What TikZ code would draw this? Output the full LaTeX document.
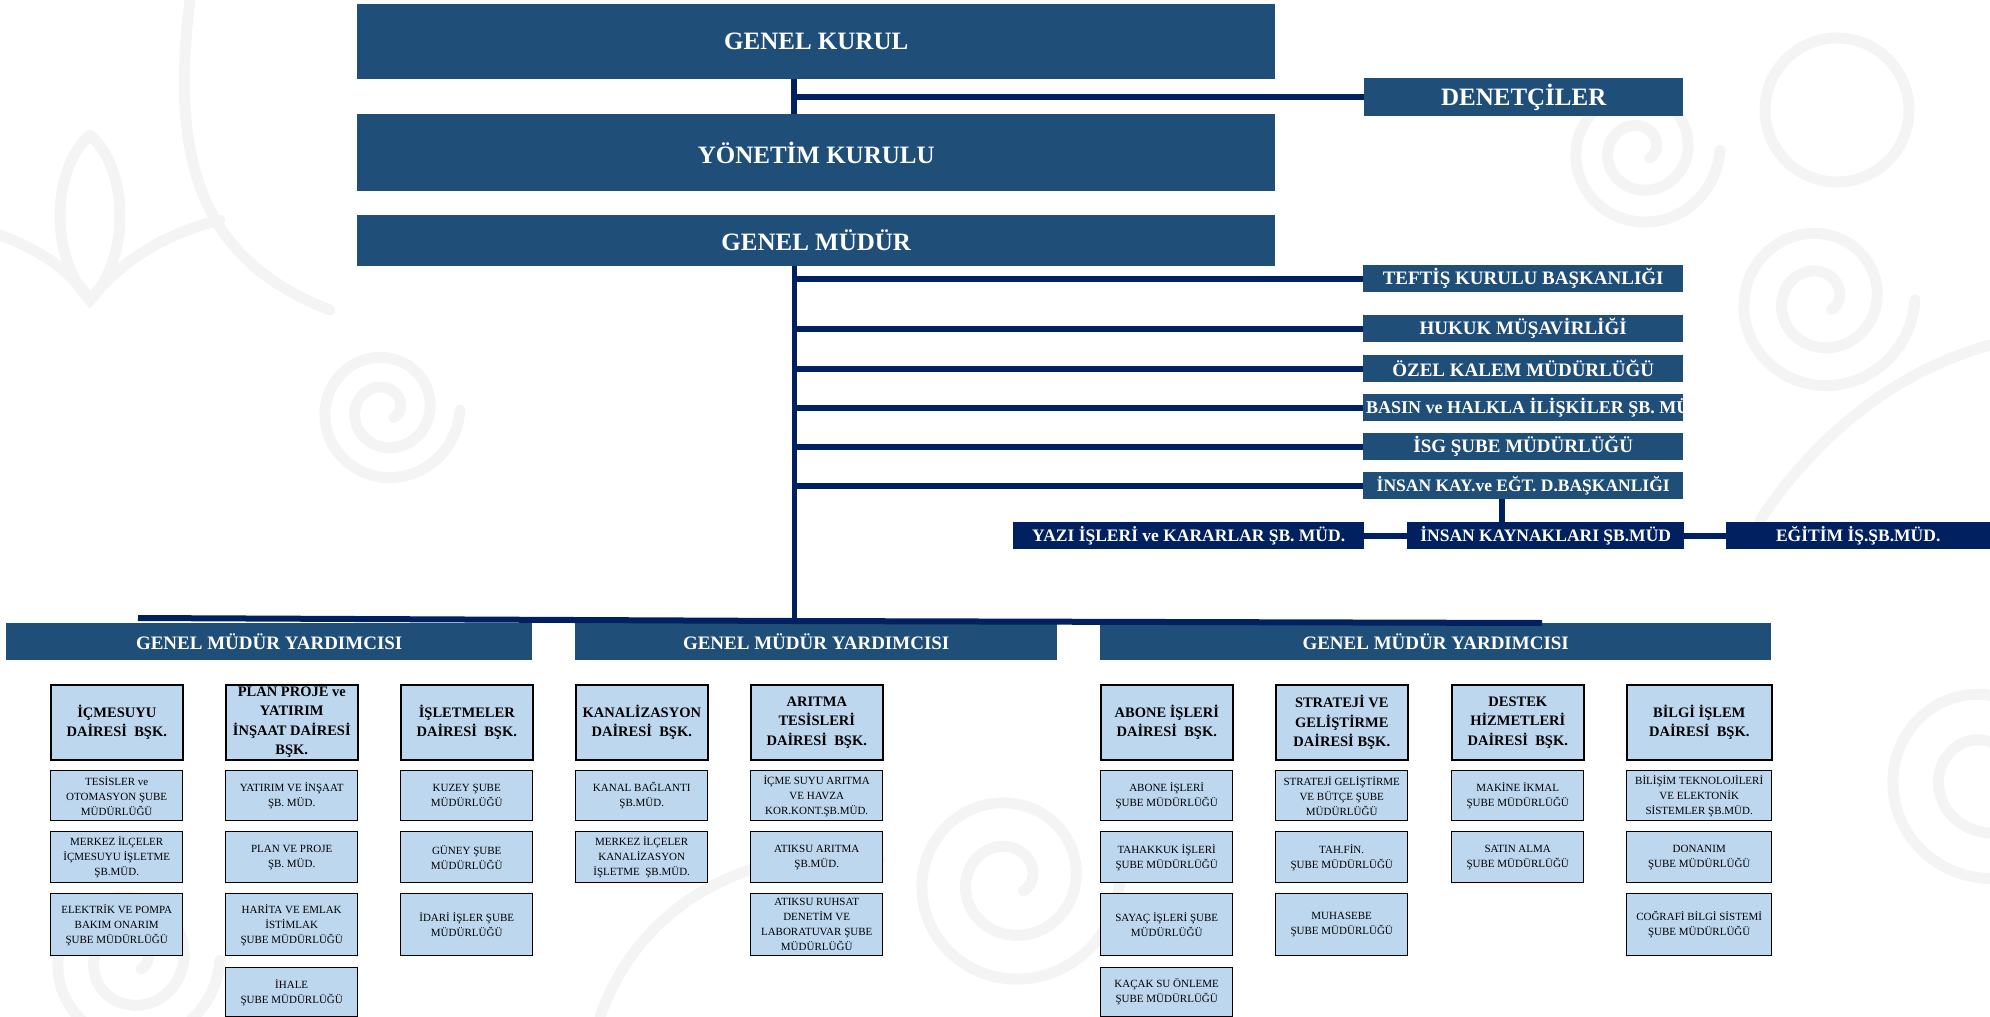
\documentclass[tikz,border=0pt]{standalone}
\usepackage{fontspec}
\setmainfont{Liberation Serif}
\usetikzlibrary{positioning}
\definecolor{topblue}{HTML}{1F4E79}
\definecolor{navy}{HTML}{002060}
\definecolor{lightbox}{HTML}{BDD7EE}
\definecolor{faint}{HTML}{F4F4F4}

\tikzset{
  topbox/.style={fill=topblue, text=white, anchor=north west, inner sep=0pt,
    font=\fontsize{25}{28}\selectfont\bfseries},
  sidebox/.style={fill=topblue, text=white, anchor=north west, inner sep=0pt,
    minimum width=320pt, minimum height=27pt, font=\fontsize{19}{21}\selectfont\bfseries},
  hrbox/.style={fill=navy, text=white, anchor=north west, inner sep=0pt,
    minimum height=27pt, font=\fontsize{17.5}{20}\selectfont\bfseries},
  gmybox/.style={fill=topblue, text=white, anchor=north west, inner sep=0pt,
    minimum height=37pt, font=\fontsize{19}{21}\selectfont\bfseries},
  deptbox/.style={draw=black, line width=1.6pt, fill=lightbox, anchor=north west,
    inner sep=1pt, minimum width=132pt, minimum height=75pt, align=center,
    font=\fontsize{14.5}{19.5}\selectfont\bfseries},
  subbox/.style={draw=black, line width=1.4pt, fill=lightbox, anchor=north west,
    inner sep=1pt, minimum width=132pt, minimum height=#1, align=center,
    font=\fontsize{11}{15}\selectfont},
  subbox/.default=50pt,
  link/.style={navy, line width=6pt},
  spineline/.style={navy, line width=5pt},
  swirl/.style={faint, line width=11pt, line cap=round},
}

\begin{document}
\begin{tikzpicture}[x=1pt,y=-1pt]
\useasboundingbox (0,0) rectangle (1990,1017);

% faint watermark swirls
\foreach \cx/\cy/\r in {1820/300/95, 1985/775/115, 385/410/75, 1010/880/110, 130/960/90, 1640/150/80}
  \draw[swirl] plot[domain=0:760, samples=100, variable=\t]
    ({\cx+\r*(1-\t/900)*cos(\t)}, {\cy+\r*(1-\t/900)*sin(\t)});
\draw[swirl] (1837,110) circle[radius=72pt];
\draw[swirl] (190,0) .. controls (170,160) and (200,260) .. (330,310);
\draw[swirl] (0,235) .. controls (40,250) and (70,270) .. (90,300) .. controls (130,250) and (180,230) .. (220,220);
\draw[swirl] (90,135) .. controls (50,170) and (50,260) .. (90,300) .. controls (130,260) and (130,170) .. (90,135);
\draw[swirl] (1990,345) .. controls (1900,370) and (1820,430) .. (1760,520);
\draw[swirl] (600,1017) .. controls (640,900) and (760,840) .. (880,860);

% board and general manager
\node[topbox, minimum width=918pt, minimum height=75pt] (gk) at (357,4) {GENEL KURUL};
\node[topbox, minimum width=319pt, minimum height=38pt] (den) at (1364,78) {DENETÇİLER};
\node[topbox, minimum width=918pt, minimum height=77pt] (yk) at (357,114) {YÖNETİM KURULU};
\node[topbox, minimum width=918pt, minimum height=51pt] (gm) at (357,215) {GENEL MÜDÜR};

% units attached to the general manager
\node[sidebox] (teftis) at (1363,265) {TEFTİŞ KURULU BAŞKANLIĞI};
\node[sidebox] (hukuk) at (1363,315) {HUKUK MÜŞAVİRLİĞİ};
\node[sidebox] (ozel) at (1363,355) {ÖZEL KALEM MÜDÜRLÜĞÜ};
\node[sidebox] (basin) at (1363,394) {};
\node[sidebox] (isg) at (1363,433) {İSG ŞUBE MÜDÜRLÜĞÜ};
\node[sidebox, font=\fontsize{17.5}{20}\selectfont\bfseries] (ikeb) at (1363,472) {İNSAN KAY.ve EĞT. D.BAŞKANLIĞI};
\begin{scope}
  \clip (basin.north west) rectangle (basin.south east);
  \node[anchor=west, text=white, inner sep=3pt, font=\fontsize{18}{20}\selectfont\bfseries]
    (basintxt) at (basin.west) {BASIN ve HALKLA İLİŞKİLER ŞB. MÜD.};
\end{scope}

\node[hrbox, minimum width=351pt] (yazi) at (1013,522) {YAZI İŞLERİ ve KARARLAR ŞB. MÜD.};
\node[hrbox, minimum width=277pt] (ik) at (1407,522) {İNSAN KAYNAKLARI ŞB.MÜD};
\node[hrbox, minimum width=264pt] (egitim) at (1726,522) {EĞİTİM İŞ.ŞB.MÜD.};

% deputies
\node[gmybox, minimum width=526pt] (gmy1) at (6,623) {GENEL MÜDÜR YARDIMCISI};
\node[gmybox, minimum width=482pt] (gmy2) at (575,623) {GENEL MÜDÜR YARDIMCISI};
\node[gmybox, minimum width=671pt] (gmy3) at (1100,623) {GENEL MÜDÜR YARDIMCISI};

% connectors
\coordinate (spine) at (794,621);
\coordinate (hrv) at (1502,500);
\coordinate (barL) at (138,618);
\coordinate (barR) at (1542,623);
\draw[link] (gk.south -| spine) -- (yk.north -| spine);
\draw[link] (spine |- den.west) -- (den.west);
\draw[spineline] (gm.south -| spine) -- (spine);
\draw[link] (barL) -- (spine) -- (barR);
\foreach \b in {teftis,hukuk,ozel,basin,isg,ikeb}
  \draw[link] (spine |- \b.west) -- (\b.west);
\draw[link] (ikeb.south -| hrv) -- (ik.north -| hrv);
\draw[link] (yazi.east) -- (ik.west);
\draw[link] (ik.east) -- (egitim.west);

% departments
\foreach \n/\x/\t in {
  icme/50/{İÇMESUYU\\DAİRESİ\ \ BŞK.},
  plan/225/{PLAN PROJE ve\\YATIRIM\\İNŞAAT DAİRESİ\\BŞK.},
  islet/400/{İŞLETMELER\\DAİRESİ\ \ BŞK.},
  kanal/575/{KANALİZASYON\\DAİRESİ\ \ BŞK.},
  aritma/750/{ARITMA\\TESİSLERİ\\DAİRESİ\ \ BŞK.},
  abone/1100/{ABONE İŞLERİ\\DAİRESİ\ \ BŞK.},
  strat/1275/{STRATEJİ VE\\GELİŞTİRME\\DAİRESİ BŞK.},
  destek/1451/{DESTEK\\HİZMETLERİ\\DAİRESİ\ \ BŞK.}}
  \node[deptbox] (\n) at (\x,684) {\t};
\node[deptbox, minimum width=145pt] (bilgi) at (1626,684) {BİLGİ İŞLEM\\DAİRESİ\ \ BŞK.};

% branch offices, row by row
\foreach \n/\x/\t in {
  tesis/50/{TESİSLER ve\\OTOMASYON ŞUBE\\MÜDÜRLÜĞÜ},
  yatirim/225/{YATIRIM VE İNŞAAT\\ŞB. MÜD.},
  kuzey/400/{KUZEY ŞUBE\\MÜDÜRLÜĞÜ},
  kbag/575/{KANAL BAĞLANTI\\ŞB.MÜD.},
  icmeark/750/{İÇME SUYU ARITMA\\VE HAVZA\\KOR.KONT.ŞB.MÜD.},
  abonesb/1100/{ABONE İŞLERİ\\ŞUBE MÜDÜRLÜĞÜ},
  butce/1275/{STRATEJİ GELİŞTİRME\\VE BÜTÇE ŞUBE\\MÜDÜRLÜĞÜ},
  makine/1451/{MAKİNE İKMAL\\ŞUBE MÜDÜRLÜĞÜ}}
  \node[subbox=50pt] (\n) at (\x,770) {\t};
\node[subbox=50pt, minimum width=145pt] (bilisim) at (1626,770) {BİLİŞİM TEKNOLOJİLERİ\\VE ELEKTONİK\\SİSTEMLER ŞB.MÜD.};

\foreach \n/\x/\t in {
  merkezic/50/{MERKEZ İLÇELER\\İÇMESUYU İŞLETME\\ŞB.MÜD.},
  planpr/225/{PLAN VE PROJE\\ŞB. MÜD.},
  guney/400/{GÜNEY ŞUBE\\MÜDÜRLÜĞÜ},
  merkezkn/575/{MERKEZ İLÇELER\\KANALİZASYON\\İŞLETME\ \ ŞB.MÜD.},
  atiksu/750/{ATIKSU ARITMA\\ŞB.MÜD.},
  tahakkuk/1100/{TAHAKKUK İŞLERİ\\ŞUBE MÜDÜRLÜĞÜ},
  tahfin/1275/{TAH.FİN.\\ŞUBE MÜDÜRLÜĞÜ},
  satin/1451/{SATIN ALMA\\ŞUBE MÜDÜRLÜĞÜ}}
  \node[subbox=51pt] (\n) at (\x,831) {\t};
\node[subbox=51pt, minimum width=145pt] (donanim) at (1626,831) {DONANIM\\ŞUBE MÜDÜRLÜĞÜ};

\foreach \n/\x/\t in {
  elektrik/50/{ELEKTRİK VE POMPA\\BAKIM ONARIM\\ŞUBE MÜDÜRLÜĞÜ},
  harita/225/{HARİTA VE EMLAK\\İSTİMLAK\\ŞUBE MÜDÜRLÜĞÜ},
  idari/400/{İDARİ İŞLER ŞUBE\\MÜDÜRLÜĞÜ},
  ruhsat/750/{ATIKSU RUHSAT\\DENETİM VE\\LABORATUVAR ŞUBE\\MÜDÜRLÜĞÜ},
  sayac/1100/{SAYAÇ İŞLERİ ŞUBE\\MÜDÜRLÜĞÜ},
  muhasebe/1275/{MUHASEBE\\ŞUBE MÜDÜRLÜĞÜ}}
  \node[subbox=62pt] (\n) at (\x,893) {\t};
\node[subbox=62pt, minimum width=145pt] (cbs) at (1626,893) {COĞRAFİ BİLGİ SİSTEMİ\\ŞUBE MÜDÜRLÜĞÜ};

\node[subbox=49pt] (ihale) at (225,967) {İHALE\\ŞUBE MÜDÜRLÜĞÜ};
\node[subbox=49pt] (kacak) at (1100,967) {KAÇAK SU ÖNLEME\\ŞUBE MÜDÜRLÜĞÜ};
\end{tikzpicture}
\end{document}
